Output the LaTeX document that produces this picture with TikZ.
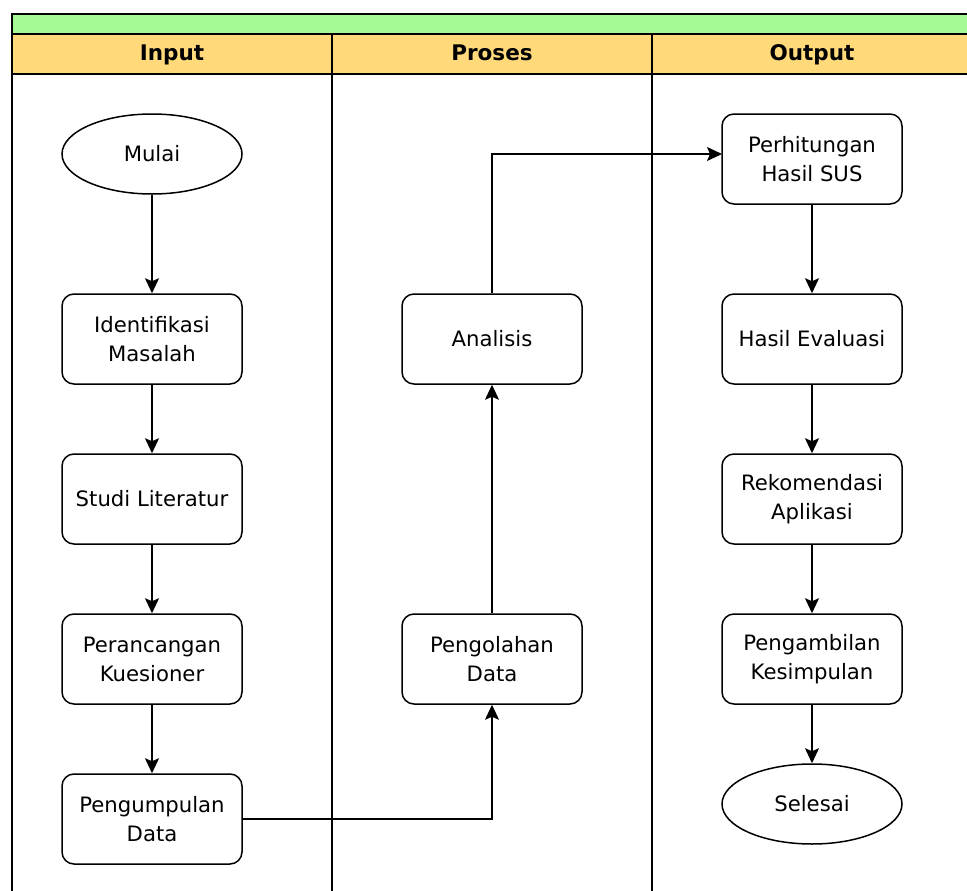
\documentclass[tikz,border=0pt]{standalone}
\usepackage{fontspec}
\setmainfont{DejaVu Sans}
\usetikzlibrary{shapes.geometric,arrows.meta}
\definecolor{lanegreen}{HTML}{A6FA96}
\definecolor{laneyellow}{HTML}{FFD97A}
\begin{document}
\begin{tikzpicture}[x=1pt,y=-1pt,
  every node/.style={font=\fontsize{21.2}{29}\selectfont, align=center},
  box/.style={draw, line width=1.5pt, rounded corners=12pt, minimum width=180pt, minimum height=90pt, inner sep=2pt},
  oval/.style={draw, line width=1.5pt, ellipse, minimum width=180pt, minimum height=80pt, inner sep=0pt},
  flow/.style={draw, line width=1.5pt, -{Stealth[length=15pt,width=14pt,inset=3pt]}},
  lane/.style={line width=1.5pt},
  head/.style={font=\fontsize{21.5}{24}\selectfont\bfseries, anchor=base}]
\useasboundingbox (0,0) rectangle (967,891);
% pool
\fill[lanegreen] (12,14) rectangle (967,34);
\fill[laneyellow] (12,34) rectangle (967,74);
\draw[lane] (967,14) -- (12,14) -- (12,891);
\draw[lane] (12,34) -- (967,34);
\draw[lane] (12,74) -- (967,74);
\draw[lane] (332,34) -- (332,891);
\draw[lane] (652,34) -- (652,891);
\node[head] (hin) at (172,61) {Input};
\node[head] (hpr) at (492,61) {Proses};
\node[head] (hout) at (812,61) {Output};
% nodes
\node[oval] (mulai) at (152,154) {Mulai};
\node[box] (ident) at (152,339) {Identifikasi\\Masalah};
\node[box] (studi) at (152,499) {Studi Literatur};
\node[box] (peranc) at (152,659) {Perancangan\\Kuesioner};
\node[box] (pengum) at (152,819) {Pengumpulan\\Data};
\node[box] (analisis) at (492,339) {Analisis};
\node[box] (pengol) at (492,659) {Pengolahan\\Data};
\node[box] (perhit) at (812,159) {Perhitungan\\Hasil SUS};
\node[box] (hasil) at (812,339) {Hasil Evaluasi};
\node[box] (rekom) at (812,499) {Rekomendasi\\Aplikasi};
\node[box] (pengam) at (812,659) {Pengambilan\\Kesimpulan};
\node[oval] (selesai) at (812,804) {Selesai};
\coordinate (c1) at (492,819);
\coordinate (c2) at (492,154);
\coordinate (c3) at (722,154);
% connectors
\draw[flow] (mulai) -- (ident);
\draw[flow] (ident) -- (studi);
\draw[flow] (studi) -- (peranc);
\draw[flow] (peranc) -- (pengum);
\draw[flow] (pengum.east) -- (c1) -- (pengol.south);
\draw[flow] (pengol) -- (analisis);
\draw[flow] (analisis.north) -- (c2) -- (c3);
\draw[flow] (perhit) -- (hasil);
\draw[flow] (hasil) -- (rekom);
\draw[flow] (rekom) -- (pengam);
\draw[flow] (pengam) -- (selesai);
\end{tikzpicture}
\end{document}
